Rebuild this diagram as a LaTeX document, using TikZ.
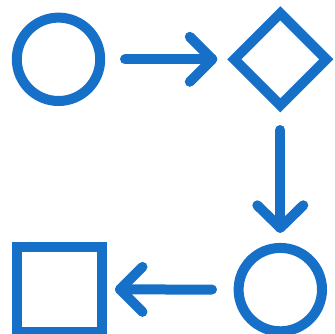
\documentclass[tikz,border=0pt]{standalone}
\usetikzlibrary{shapes.geometric}
\definecolor{iconblue}{RGB}{22,112,200}
\begin{document}
\begin{tikzpicture}[x=1pt,y=-1pt,
  shapebox/.style={draw=iconblue,line width=10pt,inner sep=0pt,outer sep=0pt},
  roundshape/.style={shapebox,circle,minimum size=83.4pt},
  diamondshape/.style={shapebox,diamond,minimum width=92pt,minimum height=92pt},
  squareshape/.style={shapebox,rectangle,minimum size=85pt},
  conn/.style={draw=iconblue,line width=10pt,line cap=round,line join=round}]
\useasboundingbox (0,0) rectangle (334,334);
\node[roundshape] (c1) at (58.5,59.3) {};
\node[diamondshape] (d) at (280.3,59.3) {};
\node[roundshape] (c2) at (280.3,289.6) {};
\node[squareshape] (s) at (59.2,289.4) {};
% right arrow
\draw[conn,shorten <=24.8pt,shorten >=22pt] (c1) -- (d);
\draw[conn] ([xshift=-22pt]d.west) ++(-22.5,-22.5) -- ++(22.5,22.5) -- ++(-22.5,22.5);
% down arrow
\draw[conn,shorten <=24.7pt,shorten >=20.1pt] (d) -- (c2);
\draw[conn] ([yshift=20.1pt]c2.north) ++(-23,-22.5) -- ++(23,22.5) -- ++(23,-22.5);
% left arrow
\draw[conn,shorten <=26.6pt,shorten >=18.3pt] (c2) -- (s);
\draw[conn] ([xshift=18.3pt]s.east) ++(22.5,-22.5) -- ++(-22.5,22.5) -- ++(22.5,22.5);
\end{tikzpicture}
\end{document}
